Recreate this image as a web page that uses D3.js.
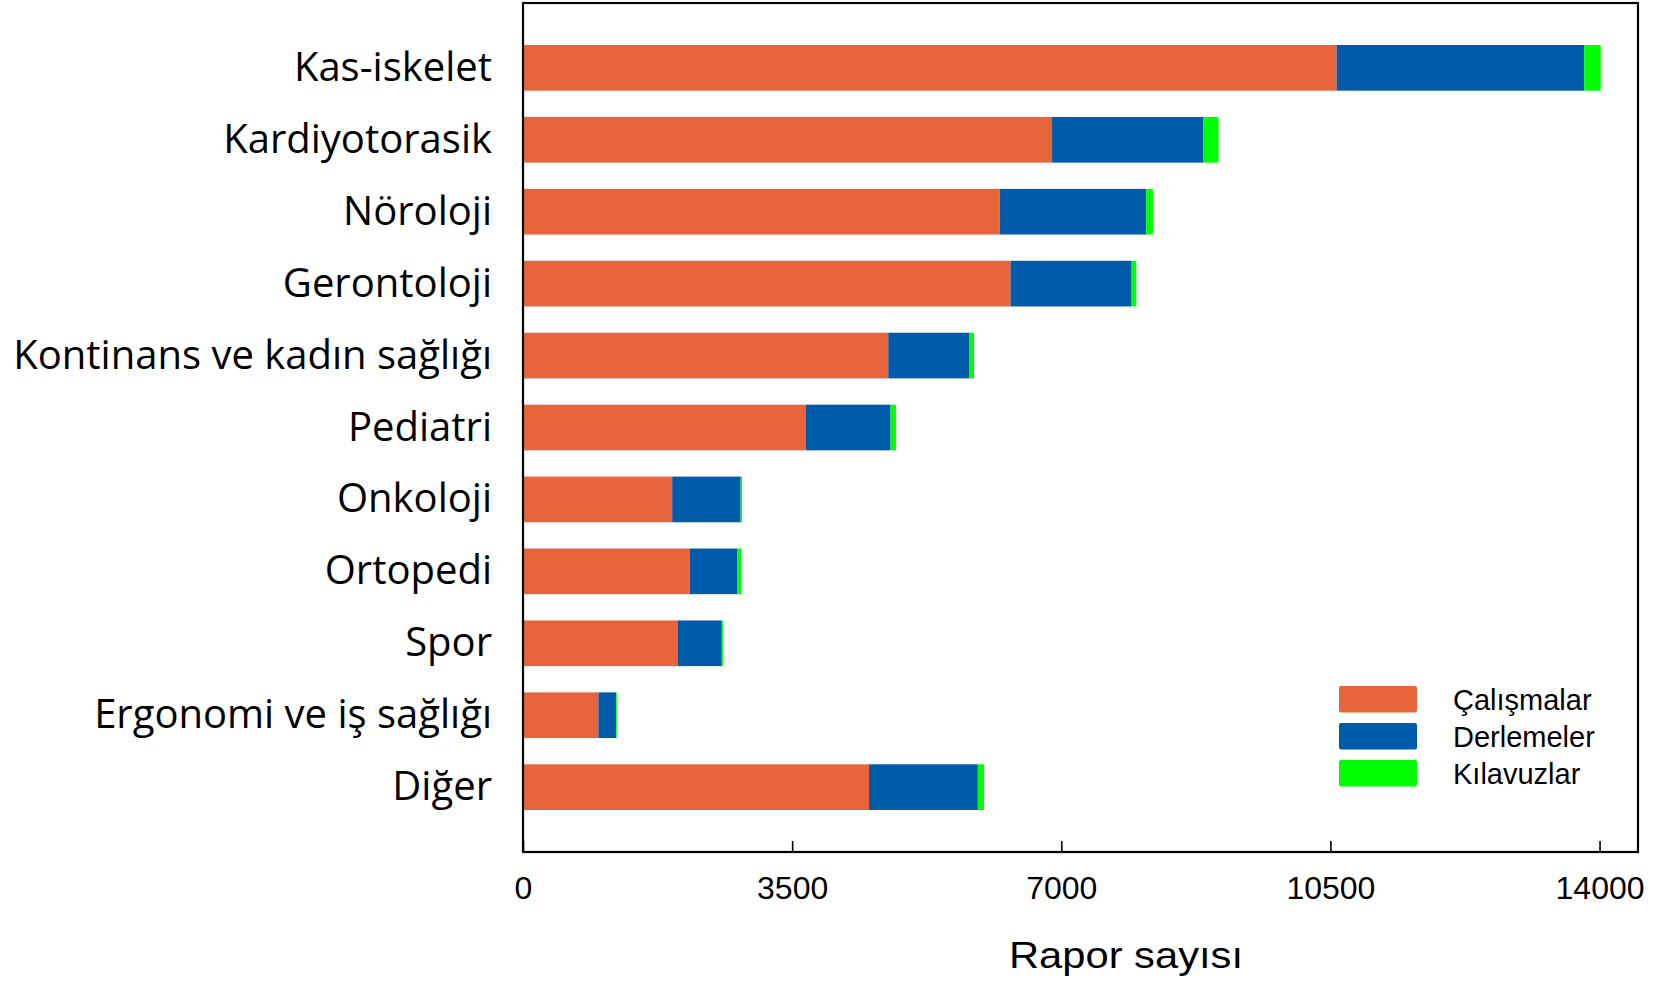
<!DOCTYPE html>
<html>
<head>
<meta charset="utf-8">
<script src="https://cdn.jsdelivr.net/npm/d3@7"></script>
<style>
  body { margin: 0; background: #fff; }
</style>
</head>
<body>
<div id="chart"></div>
<script>
// categories, top to bottom
const categories = ["Kas-iskelet", "Kardiyotorasik", "Nöroloji", "Gerontoloji",
  "Kontinans ve kadın sağlığı", "Pediatri", "Onkoloji", "Ortopedi", "Spor",
  "Ergonomi ve iş sağlığı", "Diğer"];
const calismalar = [10580, 6880, 6200, 6340, 4750, 3680, 1940, 2170, 2015, 980, 4500];
const derlemeler = [3220, 1970, 1905, 1575, 1050, 1100, 890, 620, 570, 230, 1415];
const kilavuzlar = [215, 195, 87, 60, 65, 70, 20, 50, 15, 10, 80];
const seriesNames = ["Çalışmalar", "Derlemeler", "Kılavuzlar"];
const seriesColors = ["#E8643A", "#005BAA", "#00FF00"];
const xTicks = [0, 3500, 7000, 10500, 14000];

const W = 1671, H = 982;
const plotL = 523, plotR = 1638, plotT = 3, plotB = 852;

const svg = d3.select("#chart").append("svg")
  .attr("width", W)
  .attr("height", H);

const rows = categories.map((c, i) => ({
  cat: c,
  "Çalışmalar": calismalar[i],
  "Derlemeler": derlemeler[i],
  "Kılavuzlar": kilavuzlar[i]
}));

const stack = d3.stack().keys(seriesNames)(rows);

const x = d3.scaleLinear().domain([0, 14500]).range([plotL, plotR]);
const y = d3.scaleBand().domain(categories).range([plotT, plotB])
  .paddingInner(0.365).paddingOuter(0.584);
const color = d3.scaleOrdinal().domain(seriesNames).range(seriesColors);

// bars
svg.selectAll("g.layer").data(stack).enter()
  .append("g")
  .attr("class", "layer")
  .attr("fill", d => color(d.key))
  .selectAll("rect").data(d => d).enter()
  .append("rect")
  .attr("x", d => x(d[0]))
  .attr("y", d => y(d.data.cat))
  .attr("width", d => x(d[1]) - x(d[0]))
  .attr("height", y.bandwidth());

// frame
svg.append("rect")
  .attr("x", plotL)
  .attr("y", plotT)
  .attr("width", plotR - plotL)
  .attr("height", plotB - plotT)
  .attr("fill", "none")
  .attr("stroke", "#000")
  .attr("stroke-width", 2.2);

// x axis
const xAxis = svg.append("g")
  .attr("transform", `translate(0,${plotB})`)
  .call(d3.axisBottom(x).tickValues(xTicks).tickSize(-11).tickPadding(24)
    .tickSizeOuter(0).tickFormat(d3.format("d")));
xAxis.select(".domain").remove();
xAxis.selectAll(".tick line").attr("stroke", "#000").attr("stroke-width", 1.6);
xAxis.selectAll(".tick text")
  .attr("font-family", "'Liberation Sans', Arial, sans-serif")
  .attr("font-size", 32)
  .attr("fill", "#000");

svg.append("text")
  .text("Rapor sayısı")
  .attr("x", 1126)
  .attr("y", 968)
  .attr("text-anchor", "middle")
  .attr("textLength", 234)
  .attr("lengthAdjust", "spacingAndGlyphs")
  .attr("font-family", "'Liberation Sans', Arial, sans-serif")
  .attr("font-size", 37)
  .attr("fill", "#000");

// category labels
svg.selectAll("text.cat").data(categories).enter()
  .append("text")
  .attr("class", "cat")
  .text(d => d)
  .attr("x", 492)
  .attr("y", d => y(d) + y.bandwidth() / 2 + 13)
  .attr("text-anchor", "end")
  .attr("font-family", "'Open Sans', 'Noto Sans', sans-serif")
  .attr("font-size", 40)
  .attr("fill", "#000");

// legend
const legend = svg.selectAll("g.legend").data(seriesNames).enter()
  .append("g")
  .attr("class", "legend")
  .attr("transform", (d, i) => `translate(1339,${686 + i * 37})`);
legend.append("rect")
  .attr("width", 78)
  .attr("height", 26.5)
  .attr("rx", 2)
  .attr("fill", d => color(d));
legend.append("text")
  .text(d => d)
  .attr("x", 114)
  .attr("y", 23.5)
  .attr("font-family", "'Liberation Sans', Arial, sans-serif")
  .attr("font-size", 29)
  .attr("fill", "#000");
</script>
</body>
</html>
